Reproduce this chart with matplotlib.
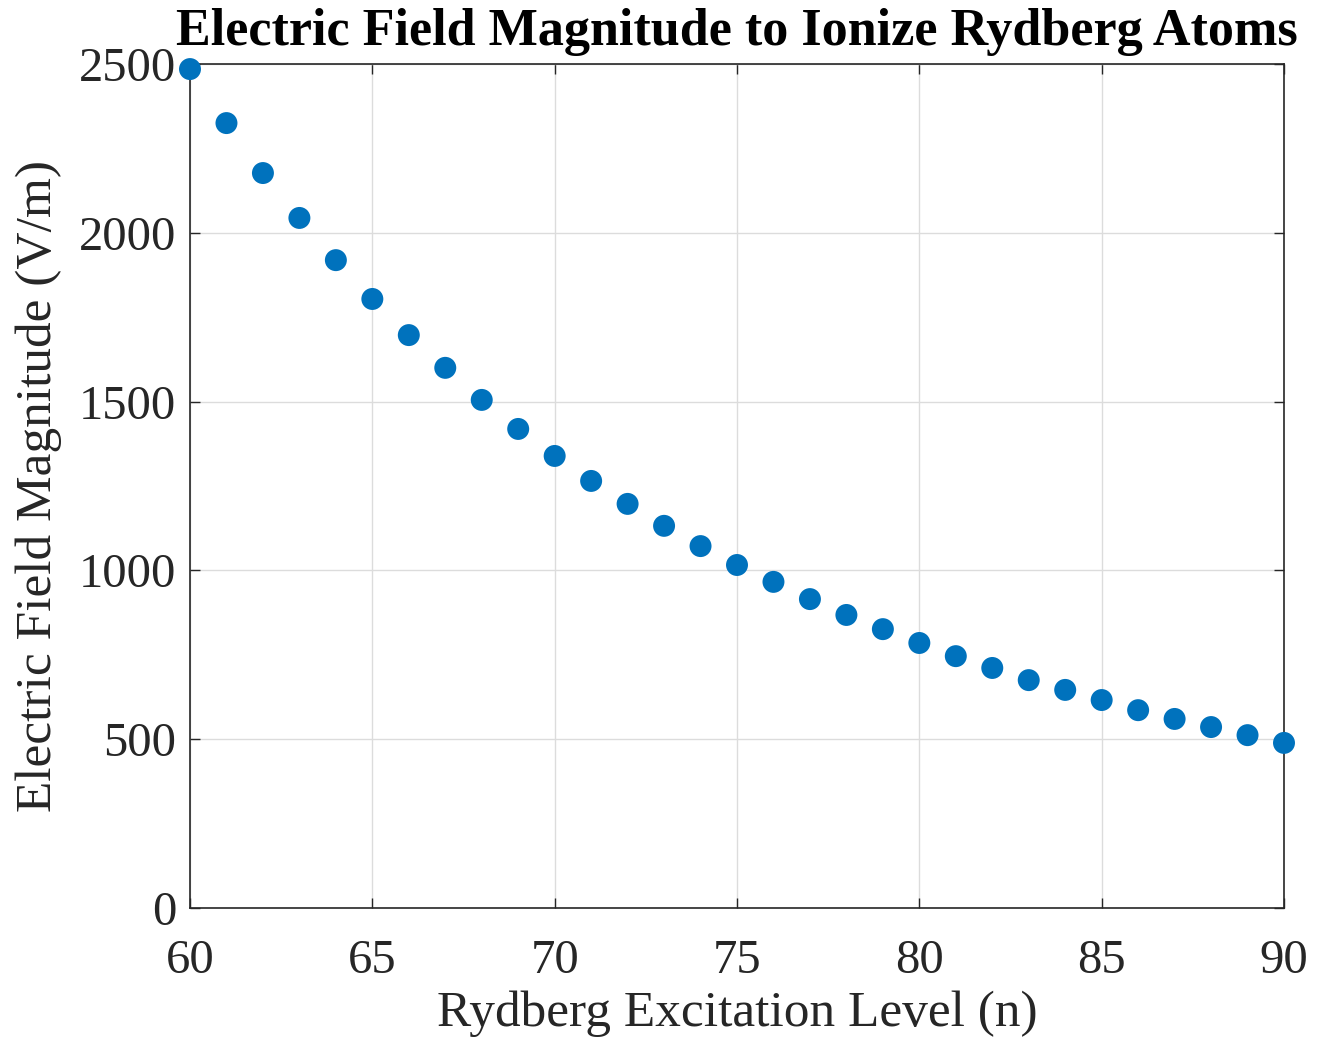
import matplotlib
matplotlib.use("Agg")
import matplotlib.pyplot as plt

# Rydberg level n and field needed to ionize
n_level = list(range(60, 91))
e_field = [2485, 2325, 2177, 2044, 1919, 1804, 1697, 1600, 1505, 1419,
           1339, 1265, 1197, 1132, 1072, 1016, 966, 915, 868, 826,
           785, 746, 711, 675, 646, 616, 586, 560, 536, 512, 489]

xticks = [60, 65, 70, 75, 80, 85, 90]
yticks = [0, 500, 1000, 1500, 2000, 2500]

plt.rcParams['font.family'] = ['Liberation Serif', 'DejaVu Serif']

fig = plt.figure(figsize=(13.27, 10.41), dpi=100)
ax = fig.add_axes([190 / 1327, 1 - 908 / 1041, (1284 - 190) / 1327, (908 - 64) / 1041])

ax.scatter(n_level, e_field, s=250, color='#0072BD', edgecolors='none',
           zorder=3, clip_on=False)

ax.set_xlim(60, 90)
ax.set_ylim(0, 2500)
ax.set_xticks(xticks)
ax.set_yticks(yticks)
ax.grid(True, color='#dcdcdc', linewidth=1)
ax.set_axisbelow(True)
ax.tick_params(direction='in', top=True, right=True, length=7, width=1,
               colors='#262626', labelsize=35)
ax.tick_params(axis='x', pad=22)
ax.tick_params(axis='y', pad=10)
for sp in ax.spines.values():
    sp.set_color('#262626')
    sp.set_linewidth(1.2)

ax.set_title('Electric Field Magnitude to Ionize Rydberg Atoms',
             fontsize=37.5, fontweight='bold', pad=14)
ax.set_xlabel('Rydberg Excitation Level (n)', fontsize=37, color='#262626', labelpad=6)
ax.set_ylabel('Electric Field Magnitude (V/m)', fontsize=37, color='#262626', labelpad=12)

fig.savefig('out.png', dpi=100)
